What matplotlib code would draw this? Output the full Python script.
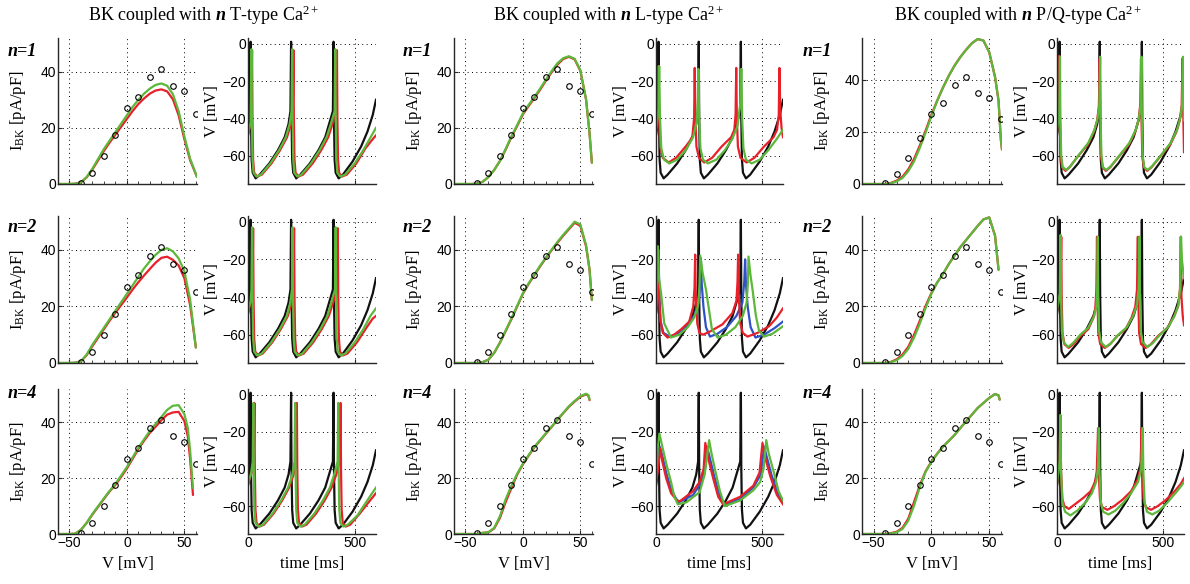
import matplotlib
matplotlib.use("Agg")
import matplotlib.pyplot as plt

plt.rcParams["font.family"] = "Liberation Sans"
plt.rcParams["mathtext.fontset"] = "custom"
plt.rcParams["mathtext.rm"] = "Liberation Serif"
plt.rcParams["mathtext.it"] = "Liberation Serif:italic"
plt.rcParams["mathtext.bf"] = "Liberation Serif:bold:italic"

# ---- measured BK current (open circles, same in every I-V panel) ----
expt_v = [-40, -30, -20, -10, 0, 10, 20, 30, 40, 50, 60]
expt_i = [0.4, 4, 10, 17.5, 27, 31, 38, 41, 35, 33, 25]

# ---- simulated I-V curves: voltage grid + red / green current ----
iv_v_T1 = [-60, -50, -45, -40, -35, -30, -25, -20, -15, -10, -5, 0, 5, 10, 15, 20, 25, 30, 35, 40, 45, 50, 55, 61]
iv_green_T1 = [0, 0, 0.1, 0.6, 2.5, 5.5, 9, 12.5, 15.5, 18.5, 21.5, 24.5, 27.5, 30, 32.2, 34, 35.3, 35.8, 35, 32, 26, 17, 9, 2.5]
iv_red_T1 = [0, 0, 0.1, 0.6, 2.4, 5.2, 8.5, 11.8, 14.8, 17.6, 20.4, 23.2, 26, 28.5, 30.5, 32.2, 33.3, 33.7, 33, 30.2, 24.5, 16, 8.5, 2.5]

iv_v_T2 = [-60, -50, -45, -40, -35, -30, -25, -20, -15, -10, -5, 0, 5, 10, 15, 20, 25, 30, 35, 40, 45, 50, 55, 60]
iv_green_T2 = [0, 0, 0.1, 0.6, 3, 6.5, 9.5, 12.5, 15.5, 18.5, 21.5, 24.5, 27.5, 30.5, 33.5, 36, 38.3, 40, 40.6, 39.5, 37, 32.5, 22.5, 5.5]
iv_red_T2 = [0, 0, 0.1, 0.6, 2.8, 6, 9, 12, 15, 17.8, 20.5, 23.2, 26, 28.6, 31, 33.3, 35.5, 37.2, 37.6, 36.5, 34.5, 30, 20.5, 5.5]

iv_v_T3 = [-60, -50, -45, -40, -35, -30, -25, -20, -15, -10, -5, 0, 5, 10, 15, 20, 25, 30, 35, 40, 45, 50, 53, 55, 57.5]
iv_green_T3 = [0, 0, 0.1, 1.5, 4, 7.2, 10, 12.8, 15.5, 18, 21, 24, 27.5, 31, 34, 37, 39.5, 42, 44.5, 46, 46.2, 43, 38, 30, 16.5]
iv_red_T3 = [0, 0, 0.1, 1.5, 4, 7, 9.8, 12.6, 15.3, 17.6, 20.5, 23.5, 27, 30.5, 33.5, 36.3, 38.5, 40.8, 42.8, 43.6, 43.8, 40.5, 35, 27, 14]

iv_v_L1 = [-60, -50, -45, -40, -35, -30, -25, -20, -15, -10, -5, 0, 5, 10, 15, 20, 25, 30, 35, 40, 45, 50, 55, 58, 60]
iv_green_L1 = [0, 0, 0, 0.1, 0.8, 2.5, 5, 8.2, 12.5, 17, 21, 25.2, 28.2, 31, 34, 37.2, 40.2, 43, 44.8, 45.5, 44.6, 40.5, 30, 18, 7.6]
iv_red_L1 = [0, 0, 0, 0.1, 0.8, 2.5, 5, 8.2, 12.3, 16.7, 20.7, 24.8, 27.8, 30.6, 33.6, 36.8, 39.8, 42.5, 44.5, 45.3, 44.4, 40.3, 30, 18, 7.6]

iv_v_L2 = [-60, -50, -45, -40, -35, -30, -25, -20, -15, -10, -5, 0, 5, 10, 15, 20, 25, 30, 35, 40, 45, 50, 55, 58, 60]
iv_green_L2 = [0, 0, 0, 0, 0.3, 1.2, 3.6, 7.2, 11.5, 15.7, 20.2, 24.7, 28.2, 31.3, 34.4, 37.3, 40.1, 42.8, 45.3, 47.6, 50, 49, 41.6, 33, 22.3]
iv_red_L2 = [0, 0, 0, 0, 0.3, 1.2, 3.6, 7.2, 11.3, 15.5, 20, 24.5, 28, 31.1, 34.2, 37.1, 39.9, 42.5, 45, 47.3, 49.6, 48.5, 41.2, 33, 22.3]

iv_v_L3 = [-60, -50, -45, -40, -35, -30, -25, -20, -15, -10, -5, 0, 5, 10, 15, 20, 25, 30, 35, 40, 45, 50, 55, 57, 58]
iv_green_L3 = [0, 0, 0, 0, 0.4, 0.6, 2.2, 6.4, 12.5, 17.3, 21.6, 25.2, 28.3, 31.3, 33.7, 36.1, 38.5, 41, 43.4, 45.8, 47.7, 49.4, 50.3, 49.8, 48.2]
iv_red_L3 = [0, 0, 0, 0, 0.4, 0.6, 2, 5.8, 11.5, 16.5, 21.3, 25, 28.1, 31.1, 33.5, 36, 38.4, 40.9, 43.3, 45.6, 47.5, 49.2, 50.1, 49.6, 48]

iv_v_PQ1 = [-60, -50, -45, -40, -35, -30, -25, -20, -15, -10, -5, 0, 5, 10, 15, 20, 25, 30, 35, 40, 45, 50, 55, 58, 60, 61]
iv_green_PQ1 = [0, 0, 0, 0, 0.3, 1, 2.3, 4.9, 8.7, 13.9, 19.7, 26.1, 31.9, 37, 41.5, 45.4, 48.7, 51.5, 54, 55.6, 55, 50.5, 41, 32, 17, 13.2]
iv_red_PQ1 = [0, 0, 0, 0, 0.4, 1.3, 2.8, 5.6, 9.6, 14.8, 20.5, 26.6, 32, 37, 41.5, 45.4, 48.7, 51.5, 54, 55.6, 55, 50.5, 41, 32, 17, 13.2]

iv_v_PQ2 = [-60, -50, -45, -40, -35, -30, -25, -20, -15, -10, -5, 0, 5, 10, 15, 20, 25, 30, 35, 40, 45, 50, 55, 58]
iv_green_PQ2 = [0, 0, 0, 0, 0.3, 1, 2.5, 5, 9, 14, 19.5, 24.5, 28.5, 31.5, 35, 38, 41, 43.5, 46, 48.5, 50.8, 51.5, 45, 33]
iv_red_PQ2 = [0, 0, 0, 0, 0.4, 1.3, 3, 5.7, 10, 15, 20.2, 24.8, 28.5, 31.5, 35, 38, 41, 43.5, 46, 48.5, 50.8, 51.5, 45, 33]

iv_v_PQ3 = [-60, -50, -45, -40, -35, -30, -25, -20, -15, -10, -5, 0, 5, 10, 15, 20, 25, 30, 35, 40, 45, 50, 55, 58, 59]
iv_green_PQ3 = [0, 0, 0, 0, 0.2, 0.6, 1.8, 4.8, 10.2, 16.9, 22.3, 25.9, 28.8, 31.3, 33.4, 35.5, 38, 40.4, 42.8, 45.2, 47, 48.8, 50.2, 49.7, 48.2]
iv_red_PQ3 = [0, 0, 0, 0, 0.3, 0.8, 2.2, 5.5, 11.5, 17.5, 22.5, 26, 28.8, 31.3, 33.4, 35.5, 38, 40.4, 42.8, 45.2, 47, 48.8, 50.2, 49.7, 48.2]

# ---- voltage traces (time [ms], V [mV]) ----
black_ref = [(0, -49), (9, -42), (12, 1), (14, -40), (17, -62), (22, -69), (36, -72), (55, -70), (100, -64), (140, -57),
             (172, -50), (190, -43), (199, -36), (202, 1), (204, -40), (207, -62), (212, -69), (226, -72), (245, -70),
             (290, -64), (330, -57), (362, -50), (380, -43), (398, -36), (401, 1), (403, -40), (406, -62), (411, -69),
             (425, -72), (445, -70), (490, -63), (530, -55), (560, -47), (585, -38), (600, -30)]

green_T1 = [(0, -48), (12, -42), (16, -3), (18, -40), (21, -62), (26, -69), (40, -71), (60, -70), (105, -64), (145, -57),
            (177, -50), (195, -43), (204, -36), (207, -3), (209, -40), (212, -62), (217, -69), (231, -71), (250, -70),
            (295, -64), (335, -57), (368, -50), (388, -43), (406, -36), (409, -3), (411, -40), (414, -62), (419, -69),
            (433, -71), (455, -70), (500, -64), (540, -57), (575, -50), (600, -45)]
red_T1 = [(0, -48), (15, -42), (19, -3.5), (21, -40), (24, -62), (29, -69), (43, -71), (65, -70), (110, -64), (150, -57),
          (183, -50), (201, -43), (210, -36), (213, -3.5), (215, -40), (218, -62), (223, -69), (237, -71), (258, -70),
          (303, -64), (343, -57), (376, -50), (396, -43), (414, -36), (417, -3.5), (419, -40), (422, -62), (427, -69),
          (441, -71), (463, -70), (508, -64), (550, -56), (585, -51), (600, -49)]

green_T2 = [(0, -48), (12, -42), (16, -36), (19, -3), (21, -40), (24, -62), (29, -69), (43, -71), (64, -70), (109, -64),
            (149, -57), (182, -50), (198, -43), (206, -36), (209, -3), (211, -40), (214, -62), (219, -69), (233, -71),
            (254, -70), (299, -64), (339, -57), (372, -50), (390, -43), (408, -36), (411, -3), (413, -40), (416, -62),
            (421, -69), (435, -71), (456, -70), (501, -64), (541, -57), (574, -50), (600, -46)]
red_T2 = [(0, -48), (15, -42), (21, -36), (24, -3.5), (26, -40), (29, -62), (34, -69), (48, -71), (69, -70), (114, -64),
          (154, -57), (187, -50), (205, -43), (213, -36), (216, -3.5), (218, -40), (221, -62), (226, -69), (240, -71),
          (261, -70), (306, -64), (346, -57), (379, -50), (399, -43), (418, -36), (421, -3.5), (423, -40), (426, -62),
          (431, -69), (445, -71), (466, -70), (511, -64), (551, -57), (584, -51.5), (600, -50)]

green_T3 = [(0, -48), (15, -42), (22, -36), (25, -4.5), (27, -40), (30, -62), (35, -69), (49, -71), (70, -70), (115, -64),
            (155, -57), (188, -50), (208, -43), (218, -36), (221, -4.5), (223, -40), (226, -62), (231, -69), (245, -71),
            (266, -70), (311, -64), (351, -57), (384, -50), (404, -43), (420, -36), (423, -4.5), (425, -40), (428, -62),
            (433, -69), (447, -71), (468, -70), (513, -65), (553, -58), (600, -50)]
red_T3 = [(0, -48), (18, -42), (27, -36), (30, -4.5), (32, -40), (35, -62), (40, -69), (54, -71), (75, -70), (120, -64),
          (160, -57), (193, -50), (214, -43), (226, -36), (229, -4.5), (231, -40), (234, -62), (239, -69), (253, -71),
          (274, -70), (319, -64), (359, -57), (392, -50), (414, -43), (431, -36), (434, -4.5), (436, -40), (439, -62),
          (444, -69), (458, -71), (479, -70), (524, -64), (565, -58), (600, -53)]

red_L1 = [(0, -46), (9, -35), (12, -12), (15, -40), (20, -55), (32, -61), (60, -63.5), (95, -61), (140, -55), (160, -52),
          (172, -49.5), (180, -40), (183, -13), (186, -40), (191, -55), (203, -61), (228, -63.5), (265, -61), (310, -55),
          (355, -50), (370, -46), (376, -38), (379, -13), (382, -40), (387, -55), (399, -61), (428, -63.5), (465, -61),
          (510, -55), (555, -50), (572, -46), (580, -38), (583, -13), (587, -35), (593, -45), (600, -50)]
green_L1 = [(0, -47), (12, -35), (15, -12), (19, -40), (25, -56), (38, -62), (63, -64), (100, -62), (140, -57), (175, -50),
            (192, -42), (198, -30), (200, -13.5), (204, -40), (210, -56), (222, -62), (245, -64), (285, -62), (325, -57),
            (360, -51), (385, -44), (398, -32), (403, -13.5), (407, -40), (413, -56), (425, -62), (452, -64), (490, -62),
            (530, -57), (570, -51), (600, -46)]

red_L2 = [(0, -48), (9, -35), (12, -15), (15, -40), (20, -52), (32, -59), (55, -61.5), (85, -60), (120, -57), (157, -53),
          (176, -45), (182, -35), (185, -17.5), (188, -40), (195, -54), (205, -59), (222, -60), (260, -58), (314, -54.5),
          (361, -48.5), (380, -42), (385, -32), (388, -17.5), (391, -40), (398, -54), (410, -59), (432, -61), (480, -59),
          (534, -55.5), (570, -51), (600, -46)]
blue_L2 = [(0, -48), (9, -35), (12, -15), (16, -40), (22, -53), (35, -59), (65, -61), (100, -59.5), (140, -56), (180, -50),
           (202, -43), (209, -32), (212, -19.5), (216, -33), (224, -45), (236, -56), (255, -61), (290, -59.5), (335, -56),
           (380, -50), (408, -43), (417, -32), (421, -20), (425, -33), (433, -45), (447, -56), (470, -61.5), (510, -60),
           (560, -56.5), (600, -53)]
green_L2 = [(0, -48), (5, -30), (8, -13), (14, -30), (24, -38), (39, -54), (71, -61.5), (110, -60), (150, -56), (180, -51),
            (198, -45), (205, -35), (209, -18), (220, -27), (236, -36), (248, -45), (264, -57), (291, -61.5), (330, -60),
            (375, -56), (410, -50), (428, -43), (434, -33), (437, -18.5), (446, -28), (456, -36), (472, -50), (487, -58),
            (511, -61), (550, -59.5), (600, -55.5)]

red_L3 = [(0, -47), (10, -40), (20, -29), (30, -36), (48, -45), (71, -53), (95, -56.5), (111, -57.5), (175, -52), (206, -47),
          (225, -40), (233, -26), (246, -34), (270, -45), (294, -55), (317, -59), (397, -55), (460, -49), (489, -42),
          (503, -26), (516, -34), (540, -44), (571, -54), (600, -59)]
blue_L3 = [(0, -47), (10, -38), (18, -28), (30, -33), (48, -42), (71, -51), (95, -56), (108, -58), (175, -54), (210, -48),
           (232, -40), (241, -28), (252, -33), (275, -44), (300, -54), (322, -59.5), (400, -56), (460, -50), (495, -43),
           (511, -28), (522, -33), (545, -43), (575, -53), (600, -58)]
green_L3 = [(0, -47), (8, -29), (16, -21), (32, -29), (48, -37), (71, -47), (87, -55), (103, -59), (143, -58), (206, -52.5),
            (230, -43), (251, -24.5), (262, -31.5), (278, -40), (302, -52), (325, -60), (397, -57), (460, -51.5),
            (492, -47), (508, -40), (521, -24.5), (532, -31.5), (556, -41.5), (579, -52), (600, -57)]

red_PQ1 = [(0, -47), (8, -38), (11, -6.5), (13, -40), (17, -60), (24, -66), (40, -68), (60, -66), (100, -60), (146, -54),
           (175, -47), (190, -41), (198, -33), (202, -8), (204, -40), (208, -60), (215, -66), (231, -68), (252, -66),
           (295, -60), (340, -54), (370, -47), (385, -41), (393, -33), (397, -8), (399, -40), (403, -60), (410, -66),
           (426, -68), (447, -66), (490, -60), (535, -54), (565, -47), (580, -41), (589, -33), (593, -8), (596, -35),
           (600, -58)]
green_PQ1 = [(0, -47), (10, -38), (14, -7), (16, -40), (20, -60), (27, -66), (43, -67.5), (63, -65.5), (103, -59.5),
             (148, -53), (177, -46), (192, -40), (200, -33), (204, -7), (206, -40), (210, -60), (217, -66), (233, -67.5),
             (254, -65.5), (297, -59.5), (342, -53), (372, -46), (387, -40), (395, -33), (399, -7), (401, -40), (405, -60),
             (412, -66), (428, -67.5), (449, -65.5), (492, -59.5), (537, -53), (567, -46), (582, -40), (591, -33),
             (595, -7), (598, -25), (600, -41)]

red_PQ2 = [(0, -47), (16, -38), (20, -8), (22, -40), (26, -59), (35, -65), (55, -67), (78, -65), (113, -60.5), (148, -57),
           (172, -51), (181, -46), (186, -36), (189, -8), (191, -40), (195, -59), (204, -65), (226, -67), (251, -65),
           (286, -60.5), (324, -57), (352, -51), (370, -45), (378, -36), (382, -8), (384, -40), (388, -59), (397, -65),
           (419, -67), (444, -65), (479, -60.5), (520, -56.5), (552, -50.5), (572, -45), (581, -36), (585, -8),
           (588, -40), (594, -50), (600, -55)]
green_PQ2 = [(0, -47), (13, -38), (17, -7), (19, -40), (23, -58), (32, -64), (52, -66.5), (75, -64.5), (110, -60),
             (146, -56.5), (176, -50), (186, -45), (190, -35), (193, -8), (195, -40), (199, -58), (208, -64), (230, -66.5),
             (255, -64.5), (290, -60), (330, -56), (360, -50), (378, -44), (386, -35), (390, -8), (392, -40), (396, -58),
             (405, -64), (427, -66.5), (452, -64.5), (487, -60), (525, -56), (555, -50), (574, -44), (582, -35),
             (586, -8), (590, -20), (600, -30)]

red_PQ3 = [(0, -48), (12, -36), (16, -11), (19, -40), (25, -56), (35, -60), (56, -61.5), (85, -59), (125, -55.5),
           (159, -52), (180, -47), (188, -41), (194, -18), (197, -42), (203, -56), (213, -60.5), (238, -62), (270, -60),
           (310, -56.5), (350, -52), (380, -46), (394, -40), (400, -18), (403, -42), (409, -56), (419, -60.5), (444, -62),
           (476, -60), (516, -56.5), (556, -52), (585, -48), (600, -45)]
green_PQ3 = [(0, -48), (12, -36), (16, -11), (19, -42), (26, -58), (38, -63), (63, -65), (95, -62.5), (135, -58),
             (165, -53), (185, -47), (193, -40), (198, -18), (201, -42), (207, -58), (218, -63), (243, -64.5),
             (275, -62.5), (315, -58), (350, -53), (383, -47), (398, -40), (405, -18), (408, -42), (414, -58), (425, -63),
             (450, -64.5), (482, -62.5), (522, -58), (560, -53), (588, -49), (600, -47)]

channel_names = ["T-type", "L-type", "P/Q-type"]
row_labels = ["n=1", "n=2", "n=4"]

RED = "#e8202a"
GREEN = "#5cb83a"
BLUE = "#3050c8"
BLACK = "#111111"

W, H = 1190, 584


def px_rect(left, top, right, bottom):
    """axes rectangle from pixel edges (origin top-left)"""
    return [left / W, 1 - bottom / H, (right - left) / W, (bottom - top) / H]


def style_axes(ax):
    for side in ["top", "right"]:
        ax.spines[side].set_visible(False)
    for side in ["left", "bottom"]:
        ax.spines[side].set_color("#262626")
        ax.spines[side].set_linewidth(1.0)
    ax.tick_params(direction="in", length=3, width=0.8, labelsize=10, pad=1.5, colors="#262626")
    ax.tick_params(labelcolor="black")
    ax.grid(True, linestyle=(0, (1, 3.5)), color="black", linewidth=0.7)
    ax.set_axisbelow(True)


fig = plt.figure(figsize=(W / 100, H / 100), dpi=100)

rows = [(38, 184), (216, 363), (389, 534)]
iv_cols = [(58, 197), (454, 593), (862, 1002)]
vt_cols = [(248, 376), (656, 783), (1057, 1184)]
title_x = [204, 609, 1018]
nlabel_x = [8, 403, 803]
nlabel_y = [51, 228, 394]

iv_data = [
    [(iv_v_T1, iv_red_T1, iv_green_T1), (iv_v_T2, iv_red_T2, iv_green_T2), (iv_v_T3, iv_red_T3, iv_green_T3)],
    [(iv_v_L1, iv_red_L1, iv_green_L1), (iv_v_L2, iv_red_L2, iv_green_L2), (iv_v_L3, iv_red_L3, iv_green_L3)],
    [(iv_v_PQ1, iv_red_PQ1, iv_green_PQ1), (iv_v_PQ2, iv_red_PQ2, iv_green_PQ2), (iv_v_PQ3, iv_red_PQ3, iv_green_PQ3)],
]
iv_top = [[52, 52, 52], [52, 52, 52], [56, 52, 52]]

trace_data = [
    [[(red_T1, RED), (green_T1, GREEN)], [(red_T2, RED), (green_T2, GREEN)], [(red_T3, RED), (green_T3, GREEN)]],
    [[(red_L1, RED), (green_L1, GREEN)], [(blue_L2, BLUE), (red_L2, RED), (green_L2, GREEN)],
     [(blue_L3, BLUE), (red_L3, RED), (green_L3, GREEN)]],
    [[(red_PQ1, RED), (green_PQ1, GREEN)], [(red_PQ2, RED), (green_PQ2, GREEN)], [(red_PQ3, RED), (green_PQ3, GREEN)]],
]

for c in range(3):
    fig.text(title_x[c] / W, 1 - 15 / H,
             r"BK coupled with $\mathbf{n}$ " + channel_names[c] + r" Ca$^{2+}$",
             family="Liberation Serif", fontsize=13, ha="center", va="center")
    for r in range(3):
        top, bottom = rows[r]

        # I-V panel
        ax = fig.add_axes(px_rect(iv_cols[c][0], top, iv_cols[c][1], bottom))
        style_axes(ax)
        v, i_red, i_green = iv_data[c][r]
        ax.plot(v, i_red, color=RED, lw=1.6, solid_capstyle="round")
        ax.plot(v, i_green, color=GREEN, lw=1.6, solid_capstyle="round")
        ax.plot(expt_v, expt_i, "o", mfc="none", mec="black", ms=4, mew=0.8)
        ax.set_xlim(-60, 61)
        ax.set_ylim(0, iv_top[c][r])
        ax.set_xticks([-50, 0, 50])
        ax.set_xticks(range(-60, 61, 10), minor=True)
        ax.tick_params(which="minor", direction="in", length=2, width=0.6, colors="#262626")
        ax.set_yticks([0, 20, 40])
        ax.set_ylabel(r"$\mathrm{I}_{\mathrm{BK}}$ [pA/pF]", family="Liberation Serif", fontsize=12)
        ax.yaxis.set_label_coords(-0.215, 0.5)
        if r == 2:
            ax.set_xlabel("V [mV]", family="Liberation Serif", fontsize=12)
            ax.xaxis.set_label_coords(0.5, -0.15)
        else:
            ax.tick_params(labelbottom=False)

        # voltage trace panel
        ax = fig.add_axes(px_rect(vt_cols[c][0], top, vt_cols[c][1], bottom))
        style_axes(ax)
        t, vm = zip(*black_ref)
        ax.plot(t, vm, color=BLACK, lw=1.6)
        for trace, color in trace_data[c][r]:
            t, vm = zip(*trace)
            ax.plot(t, vm, color=color, lw=1.6)
        ax.set_xlim(0, 600)
        ax.set_ylim(-75, 3)
        ax.set_xticks([0, 500])
        ax.set_yticks([-60, -40, -20, 0])
        ax.set_ylabel("V [mV]", family="Liberation Serif", fontsize=12)
        ax.yaxis.set_label_coords(-0.215, 0.5)
        if r == 2:
            ax.set_xlabel("time [ms]", family="Liberation Serif", fontsize=12)
            ax.xaxis.set_label_coords(0.5, -0.15)
        else:
            ax.tick_params(labelbottom=False)

        fig.text(nlabel_x[c] / W, 1 - nlabel_y[r] / H, row_labels[r], family="Liberation Serif",
                 weight="bold", style="italic", fontsize=13, ha="left", va="center")

fig.savefig("out.png", dpi=100)
